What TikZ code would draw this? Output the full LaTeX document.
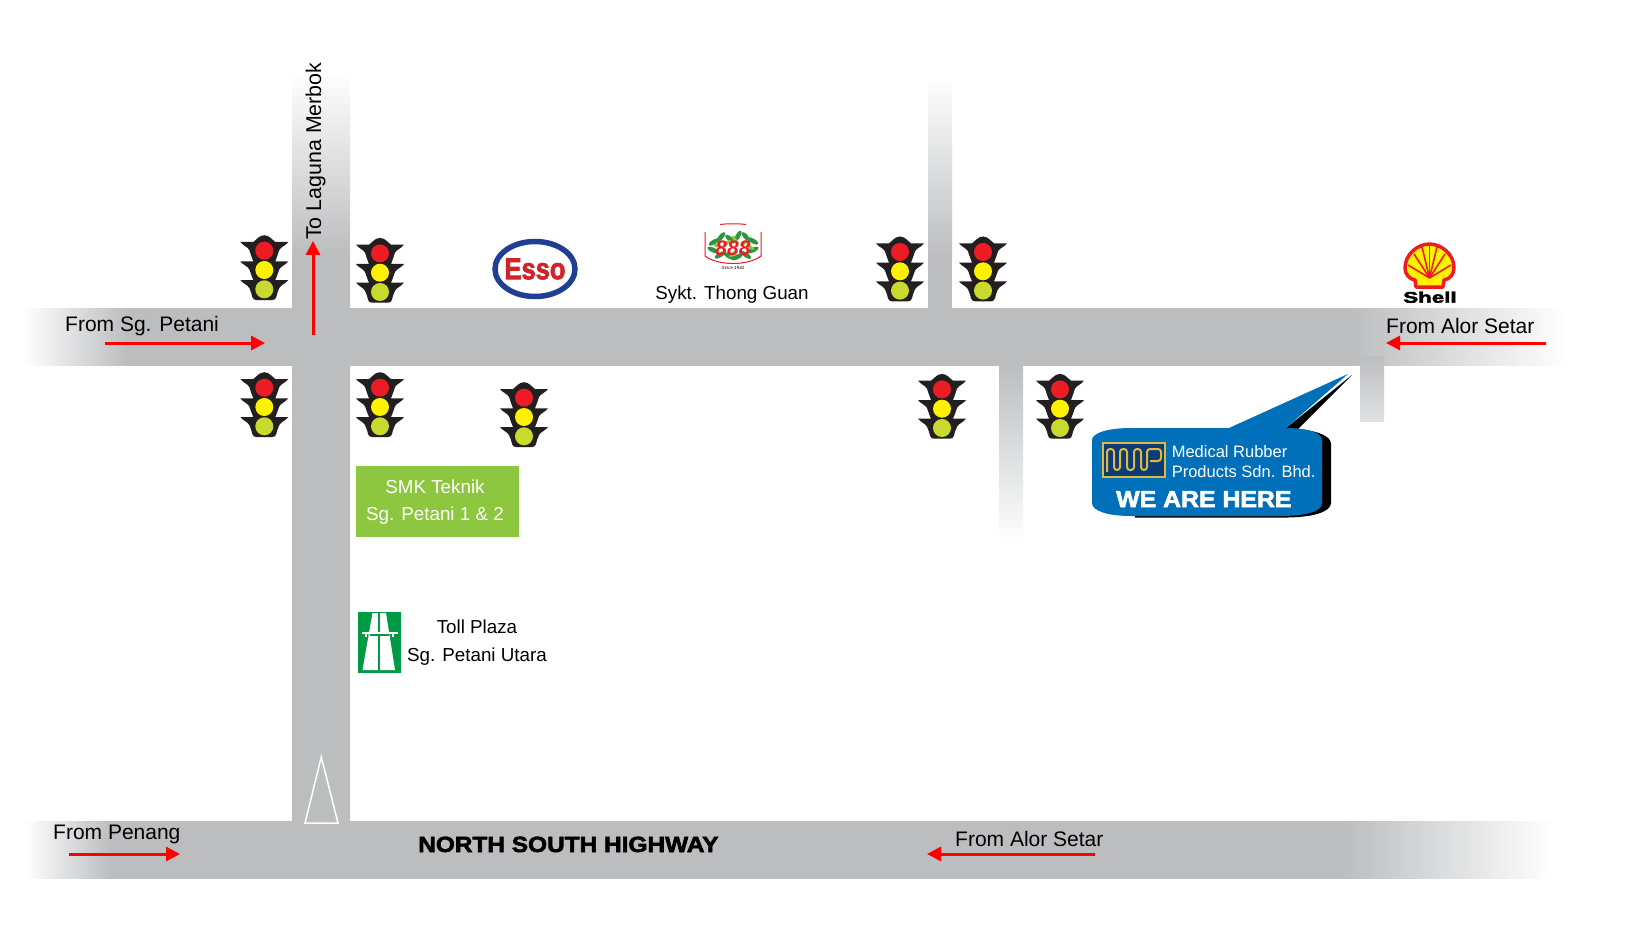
\documentclass[tikz,border=0pt]{standalone}
\usepackage{fontspec}
\setmainfont{Liberation Sans}
\newfontfamily\heavyfont[BoldFeatures={FakeBold=2.5}]{Liberation Sans}
\usetikzlibrary{arrows.meta}
\definecolor{road}{HTML}{BBBDBF}
\definecolor{lampred}{HTML}{ED1C24}
\definecolor{lampyellow}{HTML}{FFF200}
\definecolor{lampgreen}{HTML}{C8DA2E}
\definecolor{housing}{HTML}{231F20}
\definecolor{callout}{HTML}{0070BB}
\definecolor{school}{HTML}{8DC63F}
\definecolor{tollgreen}{HTML}{009A44}
\definecolor{essoblue}{HTML}{1F3F94}
\definecolor{essored}{HTML}{D2232A}
\definecolor{leaf}{HTML}{2F9440}
\definecolor{leaflight}{HTML}{8CC63F}
\definecolor{gold}{HTML}{E0B83C}
\definecolor{navy}{HTML}{0B3C78}
\pgfdeclarehorizontalshading{uppershade}{100bp}{color(0bp)=(white); color(25bp)=(white); color(28.4bp)=(road); color(68bp)=(road); color(75bp)=(white); color(100bp)=(white)}
\pgfdeclarehorizontalshading{lowershade}{100bp}{color(0bp)=(white); color(25bp)=(white); color(27.8bp)=(road); color(68.1bp)=(road); color(75bp)=(white); color(100bp)=(white)}
\pgfdeclareverticalshading{mainshade}{100bp}{color(0bp)=(road); color(25bp)=(road); color(62.8bp)=(road); color(75bp)=(white); color(100bp)=(white)}
\tikzset{
	label/.style={inner sep=0pt,anchor=base west,font=\fontsize{21}{25}\selectfont},
	small/.style={inner sep=0pt,anchor=base,font=\fontsize{18.8}{23}\selectfont},
	callouttext/.style={inner sep=0pt,anchor=base west,text=white,font=\fontsize{16.5}{20}\selectfont},
	heavy/.style={inner sep=0pt,anchor=base west,font=\heavyfont\bfseries\fontsize{#1}{#1}\selectfont},
	redarrow/.style={draw=red,line width=3pt,-{Triangle[length=14pt,width=14pt]}},
}

\begin{document}
\begin{tikzpicture}[x=1pt,y=-1pt]
		\newcommand{\signal}[2]{
			\begin{scope}[shift={(#1,#2)}]
				\foreach \s in {1,-1}
					\fill[housing,xscale=\s] (-0.5,-34.7) -- (0,-34.7) .. controls (5,-34.7) and (7,-31) .. (11,-28) -- (24,-28)
						.. controls (21,-24) and (17,-23.5) .. (15,-20) -- (13,-14) -- (11,-8.7) -- (24,-8.7)
						.. controls (21,-4.7) and (17,-4.2) .. (15,-0.7) -- (13,5) -- (11,10) -- (24,10)
						.. controls (21,14) and (17,14.5) .. (15,18) -- (13,23) -- (12,27) .. controls (11.5,29) and (10,30) .. (8,30) -- (-0.5,30) -- cycle;
				\fill[lampred] (0,-19.3) circle (9);
				\fill[lampyellow] (0,0) circle (9);
				\fill[lampgreen] (0,19.3) circle (9);
			\end{scope}}
		\useasboundingbox[fill=white] (0,0) rectangle (1631,928);
		
		% roads
		\shade[shading=uppershade] (23,308) rectangle (1566,365);
		\shade[shading=lowershade] (25,821) rectangle (1554,878);
		\shade[shading=mainshade] (292,72) rectangle (350,821.5);
		\shade[top color=white,bottom color=road] (928,77) rectangle (952,258);
		\fill[road] (928,257) rectangle (952,308.5);
		\shade[top color=road,bottom color=white] (999,364.5) rectangle (1023,542);
		\shade[top color=road,bottom color=road!45] (1360,356) rectangle (1384,421);
		\draw[white,line width=1.5pt] (321.3,757) coordinate (apex) -- (338,823) -- (305,823) -- cycle;
		
		\signal{264.3}{270}
		\signal{380}{272.7}
		\signal{264.3}{407}
		\signal{380}{407}
		\signal{524}{417}
		\signal{900}{271.3}
		\signal{983}{271.3}
		\signal{942}{408.7}
		\signal{1060}{408.7}
		
		% arrows
		\coordinate (petaniA) at (105,343);
		\coordinate (petaniB) at (265,343);
		\coordinate (merbokA) at (313,335);
		\coordinate (merbokB) at (313,241);
		\coordinate (penangA) at (69,854);
		\coordinate (penangB) at (180,854);
		\coordinate (alorA) at (1095,854);
		\coordinate (alorB) at (927,854);
		\coordinate (setarA) at (1546,343);
		\coordinate (setarB) at (1386,343);
		\draw[redarrow] (petaniA) -- (petaniB);
		\draw[redarrow] (merbokA) -- (merbokB);
		\draw[redarrow] (penangA) -- (penangB);
		\draw[redarrow] (alorA) -- (alorB);
		\draw[redarrow] (setarA) -- (setarB);
		
		\node[label] (fromPetani) at (65,331) {From Sg. Petani};
		\node[label] (fromPenang) at (53,839) {From Penang};
		\node[label] (fromAlor) at (955,846) {From Alor Setar};
		\node[label] (fromSetar) at (1386,333) {From Alor Setar};
		\node[label,rotate=90,font=\fontsize{21.4}{25}\selectfont] (toMerbok) at (321,240) {To Laguna Merbok};
		\node[small] (thong) at (732,299) {Sykt. Thong Guan};
		\node[small] (toll) at (477,633) {Toll Plaza};
		\node[small] (utara) at (477,661) {Sg. Petani Utara};
		\node[heavy=22,xscale=1.11] (highway) at (418,852) {NORTH SOUTH HIGHWAY};
		
		% school
		\fill[school] (356,466) rectangle (519,537);
		\node[small,text=white] (smk) at (435,493) {SMK Teknik};
		\node[small,text=white] (petani) at (435,520) {Sg. Petani 1 \& 2};
		
		% toll sign
		\fill[tollgreen] (357.7,611.7) rectangle (400.7,673);
		\fill[white] (372.5,613) -- (386,613) -- (395,670) -- (362.5,670) -- cycle;
		\draw[tollgreen,line width=1.2pt] (379,613) -- (379,670);
		\draw[tollgreen,line width=2pt] (370,635) -- (389,635);
		\draw[white,line width=2pt] (361.5,632.5) -- (398,632.5);
		\draw[white,line width=1.5pt] (366,632) -- (366,637) (393,632) -- (393,637);
		
		% esso
		\draw[essoblue,fill=white,line width=5.5pt] (535,269) ellipse (40 and 27.5);
		\node[inner sep=0pt,text=essored,xscale=0.85,font=\heavyfont\bfseries\fontsize{30}{30}\selectfont] (esso) at (535,269) {Esso};
		
		% 888
		\foreach \a/\b/\r in {714/242/30,721/237/50,730/239/-40,738/236/60,746/237/-50,753/241/-30,713/250/-25,720/255/30,729/256/-30,737/257/25,746/255/-35,753/250/25}
			\fill[leaf,rotate around={\r:(\a,\b)}] (\a,\b) ellipse (6.2 and 2.3);
		\foreach \a/\b/\r in {718/246/-20,727/243/35,735/240/-60,744/243/40,750/247/-30,733/254/40}
			\fill[leaflight,rotate around={\r:(\a,\b)}] (\a,\b) ellipse (5 and 1.8);
		\draw[lampred,line width=1pt] (705,232) -- (705,256) .. controls (718,266) and (748,266) .. (761,256) -- (761,232);
		\draw[lampred,line width=1pt] (720,224.5) .. controls (728,223.5) and (738,223.5) .. (746,224.5);
		\node[inner sep=0pt,text=lampred,font=\bfseries\itshape\fontsize{21}{21}\selectfont] (eights) at (733,248) {888};
		\node[inner sep=0pt,font=\itshape\fontsize{4.5}{4.5}\selectfont] (since) at (733,268) {Since 1942};
		
		% shell
		\begin{scope}[xshift=-2pt]
			\draw[fill=lampyellow,draw=lampred,line width=3.5pt,line join=round] (1431.5,244) .. controls (1443,244) and (1456,254) .. (1456,268)
				.. controls (1456,274) and (1452,279) .. (1446,280) -- (1445,287) -- (1418,287) -- (1417,280)
				.. controls (1411,279) and (1407,274) .. (1407,268) .. controls (1407,254) and (1420,244) .. (1431.5,244) -- cycle;
			\foreach \tx/\ty in {1410/265,1416/254,1424/247,1431.5/245,1439/247,1447/254,1453/265}
				\draw[lampred,line width=1.6pt] (1431.5,278) -- (\tx,\ty);
		\end{scope}
		\node[heavy=15.4,xscale=1.45] (shell) at (1403,302.7) {Shell};
		
		% callout
		\fill[black] (1286,428) -- (1352,375) -- (1298,429) .. controls (1318,431) and (1331,436) .. (1331,444) -- (1331,503)
			.. controls (1331,511) and (1316,517) .. (1288,517.5) -- (1135,517.5) -- (1135,500) -- cycle;
		\fill[callout] (1131,428) -- (1229,428) -- (1348,374) -- (1286,428)
			.. controls (1308,428) and (1322,433) .. (1322,440) -- (1322,503) .. controls (1322,511) and (1308,516) .. (1280,516)
			-- (1131,516) .. controls (1108,516) and (1092,511) .. (1092,503) -- (1092,440) .. controls (1092,433) and (1108,428) .. (1131,428) -- cycle;
		\draw[gold,fill=navy,line width=2pt] (1103,442.5) rectangle (1165,477);
		\draw[gold,line width=2pt,rounded corners=3pt] (1107,472) -- (1107,449) -- (1114,449) -- (1114,470) -- (1120,470) -- (1120,449) -- (1127,449) -- (1127,470) -- (1134,470) -- (1134,449) -- (1141,449) -- (1141,470) -- (1147,470) -- (1147,449) -- (1161,449) -- (1161,461) -- (1150,461);
		\node[callouttext] (medical) at (1171.6,457.3) {Medical Rubber};
		\node[callouttext] (products) at (1171.6,477.3) {Products Sdn. Bhd.};
		\node[heavy=23,xscale=1.08,text=white] (here) at (1116,507) {WE ARE HERE};
	\end{tikzpicture}
\end{document}
